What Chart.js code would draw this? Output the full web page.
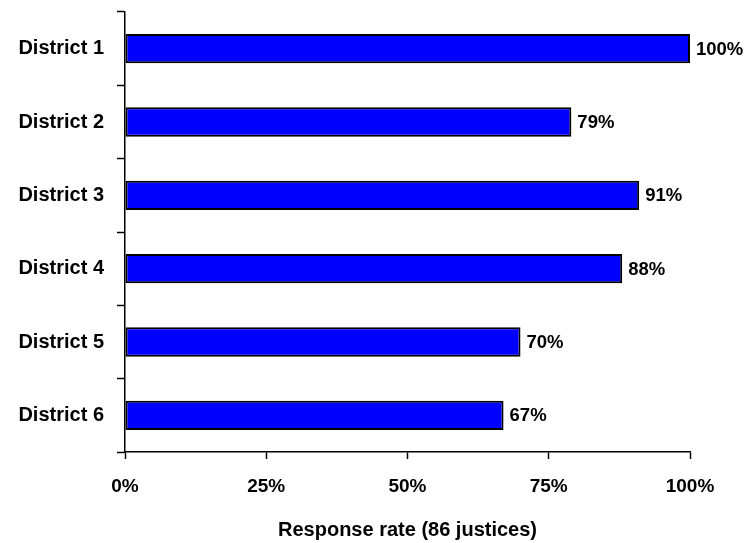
<!DOCTYPE html>
<html>
<head>
<meta charset="utf-8">
<script src="https://cdn.jsdelivr.net/npm/chart.js@4"></script>
<style>
  html, body { margin: 0; padding: 0; background: #fff; }
  #wrap { width: 748px; height: 543px; }
</style>
</head>
<body>
<div id="wrap"><canvas id="c" width="748" height="543"></canvas></div>
<script>
const categories = ["District 1", "District 2", "District 3", "District 4", "District 5", "District 6"];
const responseRates = [100, 79, 91, 88, 70, 67];
const xTickValues = [0, 25, 50, 75, 100];
const axisTitle = "Response rate (86 justices)";

const FONT = "'Liberation Sans', Arial, sans-serif";

const dataLabels = {
  id: 'dataLabels',
  afterDatasetsDraw(chart) {
    const ctx = chart.ctx;
    const meta = chart.getDatasetMeta(0);
    ctx.save();
    ctx.font = "bold 18.5px " + FONT;
    ctx.fillStyle = '#000';
    ctx.textAlign = 'left';
    ctx.textBaseline = 'middle';
    meta.data.forEach((bar, i) => {
      ctx.fillText(responseRates[i] + '%', bar.x + 6, bar.y + 1);
    });
    ctx.restore();
  }
};

new Chart(document.getElementById('c'), {
  type: 'bar',
  data: {
    labels: categories,
    datasets: [{
      data: responseRates,
      backgroundColor: '#0000FF',
      borderColor: '#000000',
      borderWidth: 2,
      borderSkipped: false,
      barPercentage: 0.4,
      categoryPercentage: 1.0
    }]
  },
  options: {
    indexAxis: 'y',
    responsive: false,
    animation: false,
    devicePixelRatio: 1,
    layout: { padding: { top: 12, right: 58, left: 0, bottom: 0 } },
    plugins: { legend: { display: false }, tooltip: { enabled: false } },
    scales: {
      x: {
        min: 0, max: 100,
        afterBuildTicks(scale) { scale.ticks = xTickValues.map(v => ({ value: v })); },
        afterFit(scale) { scale.height = 91; scale.paddingLeft = 0; scale.paddingRight = 0; },
        border: { display: true, color: '#000', width: 1.5 },
        grid: { display: true, drawOnChartArea: false, drawTicks: true, tickLength: 7, color: '#000', tickWidth: 1.5 },
        ticks: {
          color: '#000',
          padding: 16,
          maxRotation: 0,
          font: { family: FONT, size: 19, weight: 'bold' },
          callback: v => v + '%'
        },
        title: {
          display: true,
          text: axisTitle,
          color: '#000',
          font: { family: FONT, size: 20, weight: 'bold' },
          padding: { top: 0, bottom: 1 }
        }
      },
      y: {
        afterFit(scale) { scale.width = 125; scale.paddingTop = 0; scale.paddingBottom = 0; },
        border: { display: true, color: '#000', width: 1.5 },
        grid: { display: true, offset: true, drawOnChartArea: false, drawTicks: true, tickLength: 8, color: '#000', tickWidth: 1.5 },
        ticks: {
          color: '#000',
          padding: 13,
          font: { family: FONT, size: 20, weight: 'bold' }
        }
      }
    }
  },
  plugins: [dataLabels]
});
</script>
</body>
</html>
